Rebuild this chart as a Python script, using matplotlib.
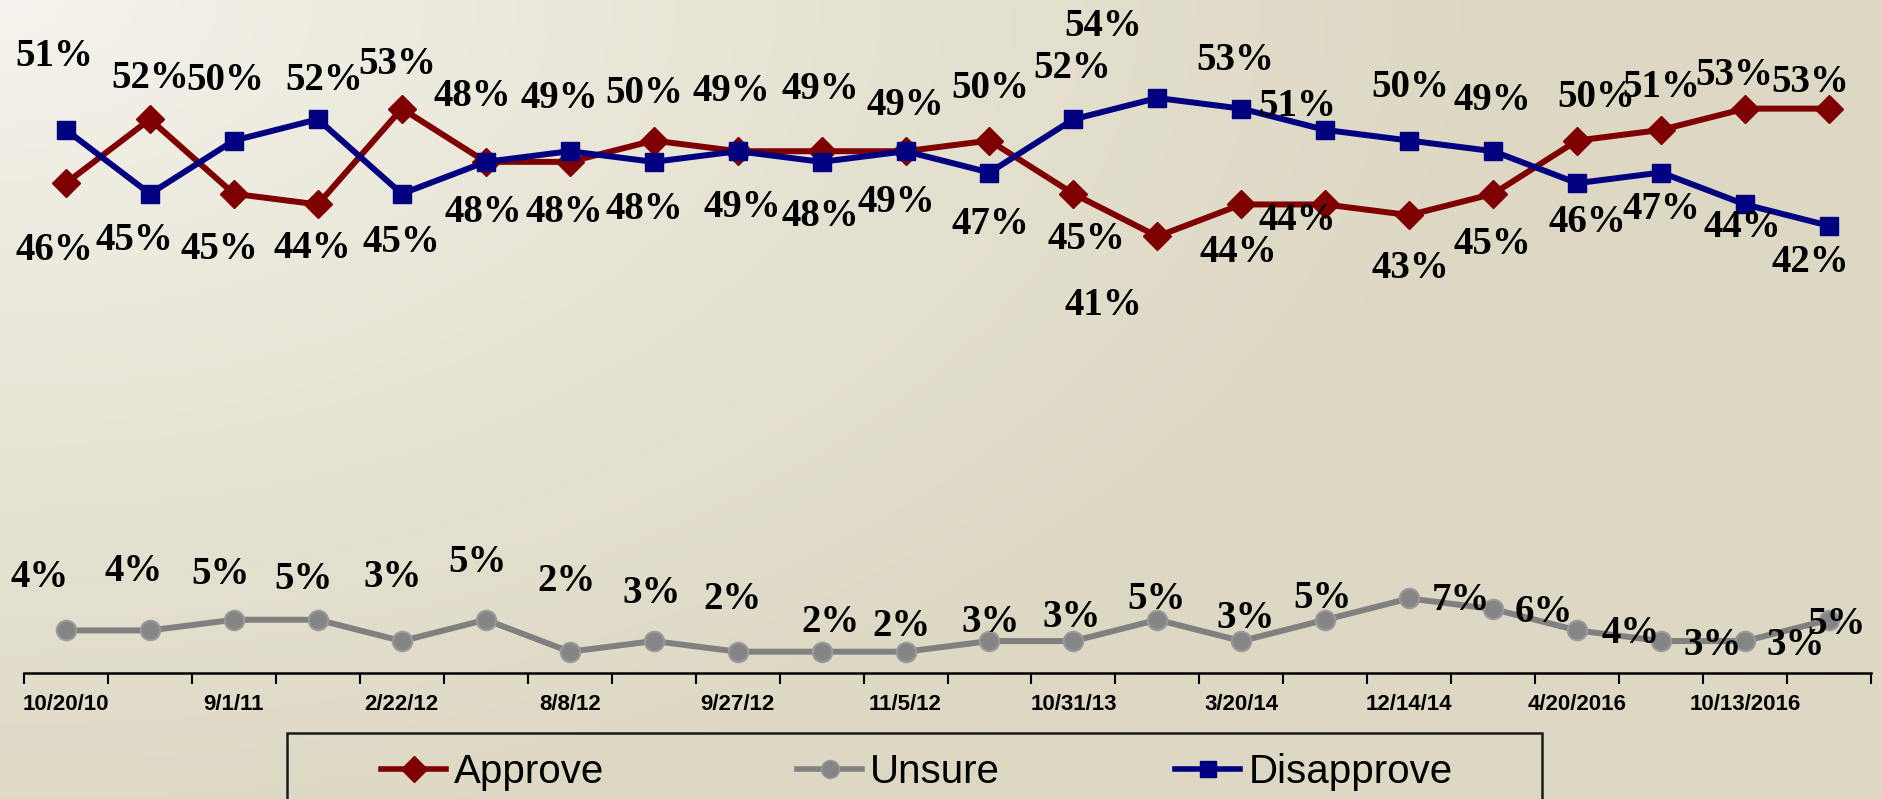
import numpy as np
import matplotlib
matplotlib.use("Agg")
import matplotlib.pyplot as plt
from matplotlib import font_manager
from matplotlib.lines import Line2D
from matplotlib.patches import Rectangle

# --- data -------------------------------------------------------------------
tick_labels = ["10/20/10", "9/1/11", "2/22/12", "8/8/12", "9/27/12", "11/5/12",
               "10/31/13", "3/20/14", "12/14/14", "4/20/2016", "10/13/2016"]
approve = [46, 52, 45, 44, 53, 48, 48, 50, 49, 49, 49, 50, 45, 41, 44, 44, 43, 45, 50, 51, 53, 53]
unsure = [4, 4, 5, 5, 3, 5, 2, 3, 2, 2, 2, 3, 3, 5, 3, 5, 7, 6, 4, 3, 3, 5]
disapprove = [51, 45, 50, 52, 45, 48, 49, 48, 49, 48, 49, 47, 52, 54, 53, 51, 50, 49, 46, 47, 44, 42]
series = ["Approve", "Unsure", "Disapprove"]

# label offsets from the marker, in pixels (dx right, dy down) - layout only
off_app = [(-12, 67), (0, -41), (-15, 56), (-6, 44), (-5, -44), (-2, 51), (-5, 51), (-9, -47),
           (-6, -60), (-1, -62), (0, -46), (1, -52), (13, 46), (-54, 69), (-3, 48), (-28, 16),
           (1, 53), (-1, 51), (19, -43), (0, -42), (-11, -33), (-19, -26)]
off_dis = [(-12, -73), (-16, 47), (-9, -60), (6, -39), (0, 49), (-13, -65), (-10, -53), (-9, 48),
           (5, 56), (-1, 55), (-9, 51), (1, 52), (-1, -51), (-54, -71), (-6, -48), (-28, -23),
           (1, -53), (-1, -51), (10, 39), (0, 37), (-3, 23), (-19, 37)]
off_uns = [(-26, -53), (-16, -59), (-13, -45), (-14, -40), (-9, -64), (-8, -57), (-3, -70), (-2, -48),
           (-5, -52), (9, -29), (-4, -25), (1, -19), (-2, -24), (-1, -20), (4, -23), (-3, -21),
           (52, 2), (51, 3), (53, 3), (52, 4), (51, 4), (7, 5)]

C_APP, C_UNS, C_DIS = "#7F0000", "#808080", "#000080"
W, H = 1883, 799

try:
    font_manager.findfont("Liberation Sans Narrow", fallback_to_default=False)
    NARROW = True
except Exception:
    NARROW = False
SANS = "Liberation Sans Narrow" if NARROW else "Liberation Sans"

fig = plt.figure(figsize=(W / 100, H / 100), dpi=100)

# background gradient (light top-left -> beige)
bg = fig.add_axes([0, 0, 1, 1], zorder=-5); bg.axis("off")
yy, xx = np.mgrid[0:H:4, 0:W:4]
t = np.clip(np.sqrt((xx / W) ** 2 * 1.1 + (yy / H) ** 2 * 0.6) / 0.85, 0, 1) ** 0.8
c0 = np.array([246, 244, 238]) / 255; c1 = np.array([221, 216, 195]) / 255
bg.imshow(c0 + (c1 - c0) * t[..., None], aspect="auto", extent=(0, 1, 0, 1), interpolation="bilinear")

ax = fig.add_axes([24 / W, 1 - 673 / H, 1847 / W, 673 / H])
ax.patch.set_alpha(0)
x = np.arange(len(approve))
ax.plot(x, approve, color=C_APP, lw=4.3, marker="D", ms=14, mec=C_APP, zorder=3)
ax.plot(x, unsure, color=C_UNS, lw=4.3, marker="o", ms=14, mfc="#858585", mec="#9a9a9a", mew=1.5, zorder=3)
ax.plot(x, disapprove, color=C_DIS, lw=4.3, marker="s", ms=13, mec=C_DIS, zorder=4)
ax.set_xlim(-0.5, len(x) - 0.5); ax.set_ylim(0, 63.2)

lab = dict(fontsize=28, fontweight="bold", family="Liberation Serif", ha="center", va="center",
           textcoords="offset pixels", zorder=6)
for vals, offs in [(approve, off_app), (disapprove, off_dis), (unsure, off_uns)]:
    for i, v in enumerate(vals):
        dx, dy = offs[i]
        ax.annotate(f"{v}%", (i, v), xytext=(dx, -dy), **lab)

for s in ["top", "left", "right"]: ax.spines[s].set_visible(False)
ax.spines["bottom"].set_linewidth(1.8)
ax.set_yticks([])
ax.set_xticks(x[::2])
ax.set_xticklabels(tick_labels, fontsize=19 if NARROW else 16, fontweight="bold", family=SANS)
ax.tick_params(axis="x", which="major", length=0, pad=15)
ax.set_xticks(np.arange(-0.5, len(x)), minor=True)
ax.tick_params(axis="x", which="minor", length=8, width=1.5, direction="out")

# legend: frame plus one entry per series, anchored at the reference handle positions
fig.patches.append(Rectangle((287 / W, -0.1), 1255 / W, 0.1 + 1 - 733 / H, transform=fig.transFigure,
                             fill=False, ec="#1a1a1a", lw=1.8))
handles = [Line2D([], [], color=C_APP, lw=4, marker="D", ms=13, mec=C_APP),
           Line2D([], [], color=C_UNS, lw=4, marker="o", ms=13, mfc="#858585", mec="#9a9a9a"),
           Line2D([], [], color=C_DIS, lw=4, marker="s", ms=12, mec=C_DIS)]
fsz = 32 if NARROW else 29
for h, name, hx in zip(handles, series, [381, 797, 1175]):
    fig.legend([h], [name], loc="center left", bbox_to_anchor=(hx / W, 1 - 772 / H), frameon=False,
               borderpad=0, borderaxespad=0, handlelength=47 / fsz, handletextpad=0.2,
               prop={"family": SANS, "size": fsz})

fig.savefig("out.png", dpi=100)
